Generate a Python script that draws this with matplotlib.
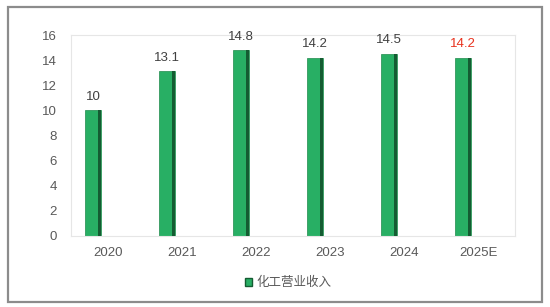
import matplotlib.pyplot as plt
import matplotlib.patches as mpatches
import numpy as np

plt.rcParams['font.family'] = ['Liberation Sans', 'Noto Sans CJK SC', 'DejaVu Sans']

# 化工营业收入
years = ['2020', '2021', '2022', '2023', '2024', '2025E']
revenue = [10, 13.1, 14.8, 14.2, 14.5, 14.2]
label_colors = ['#404040', '#404040', '#404040', '#404040', '#404040', '#e8321e']

fig = plt.figure(figsize=(5.5, 3.07), dpi=100)
# outer grey frame
fig.patches.append(mpatches.Rectangle((8 / 550, 5 / 307), 534 / 550, 295 / 307,
                                      transform=fig.transFigure, fill=False,
                                      edgecolor='#8c8c8c', linewidth=1.6))

ax = fig.add_axes([71 / 550, 71 / 307, 444 / 550, 201 / 307])
x = np.arange(len(years))
offset = -0.2
width = 0.21

ax.bar(x + offset, revenue, width=width, color='#28af64', edgecolor='#1f8a4c', linewidth=0.5, zorder=2)
# darker right face for the 3D look
ax.bar(x + offset + width / 2 - 0.02, revenue, width=0.04, color='#145c32', linewidth=0, zorder=3)

for xi, v, c in zip(x, revenue, label_colors):
    ax.text(xi + offset, v + 0.6, f'{v:g}', ha='center', va='bottom', fontsize=9.5, color=c)

ax.set_xlim(-0.5, len(years) - 0.5)
ax.set_ylim(0, 16)
ax.set_yticks(range(0, 17, 2))
ax.set_xticks(x)
ax.set_xticklabels(years)
ax.tick_params(axis='both', length=0, labelsize=9.5, colors='#595959', pad=8)
ax.tick_params(axis='y', pad=10)
for s in ax.spines.values():
    s.set_color('#e6e6e6')
    s.set_linewidth(0.8)

handle = mpatches.Patch(facecolor='#28af64', edgecolor='#145c32', linewidth=1)
fig.legend([handle], ['化工营业收入'], loc='center', bbox_to_anchor=(288 / 550, 1 - 283 / 307),
           frameon=False, fontsize=9, handlelength=0.6, handleheight=0.6, handletextpad=0.3,
           labelcolor='#595959')

fig.savefig('out.png', dpi=100)
